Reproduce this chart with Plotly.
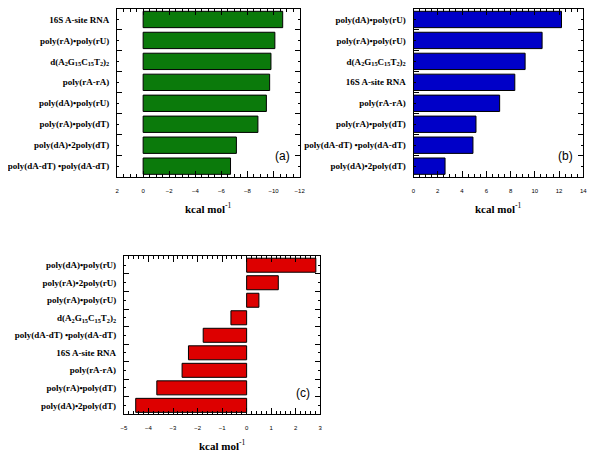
import plotly.graph_objects as go

# ---------------- data ----------------
labels_a = ["16S A-site RNA", "poly(rA)•poly(rU)", "d(A<sub>2</sub>G<sub>15</sub>C<sub>15</sub>T<sub>2</sub>)<sub>2</sub>",
            "poly(rA-rA)", "poly(dA)•poly(rU)", "poly(rA)•poly(dT)", "poly(dA)•2poly(dT)",
            "poly(dA-dT) •poly(dA-dT)"]
values_a = [-10.7, -10.1, -9.8, -9.7, -9.45, -8.8, -7.15, -6.7]

labels_b = ["poly(dA)•poly(rU)", "poly(rA)•poly(rU)", "d(A<sub>2</sub>G<sub>15</sub>C<sub>15</sub>T<sub>2</sub>)<sub>2</sub>",
            "16S A-site RNA", "poly(rA-rA)", "poly(rA)•poly(dT)", "poly(dA-dT) •poly(dA-dT)",
            "poly(dA)•2poly(dT)"]
values_b = [12.2, 10.6, 9.2, 8.35, 7.1, 5.15, 4.9, 2.6]

labels_c = ["poly(dA)•poly(rU)", "poly(rA)•2poly(rU)", "poly(rA)•poly(rU)",
            "d(A<sub>2</sub>G<sub>15</sub>C<sub>15</sub>T<sub>2</sub>)<sub>2</sub>",
            "poly(dA-dT) •poly(dA-dT)", "16S A-site RNA", "poly(rA-rA)",
            "poly(rA)•poly(dT)", "poly(dA)•2poly(dT)"]
values_c = [2.82, 1.29, 0.5, -0.64, -1.77, -2.37, -2.63, -3.66, -4.52]

xticks_a = [2, 0, -2, -4, -6, -8, -10, -12]
xticks_b = [0, 2, 4, 6, 8, 10, 12, 14]
xticks_c = [-5, -4, -3, -2, -1, 0, 1, 2, 3]

W, H = 600, 461
OX, OY = 8, 8  # page body margin offset


def xd(x0, x1):
    return [max(0, (x0 - OX) / W), min(1, (x1 - OX) / W)]


def yd(y0, y1):
    return [max(0, 1 - (y1 - OY) / H), min(1, 1 - (y0 - OY) / H)]


panels = [
    dict(labels=labels_a, values=values_a, color="#0b7a0b", ticks=xticks_a, rng=[2, -12],
         minor=0.5, xdom=xd(114, 300), ydom=yd(8, 176), letter="(a)", tag="", width=0.78),
    dict(labels=labels_b, values=values_b, color="#0000c8", ticks=xticks_b, rng=[0, 14],
         minor=0.5, xdom=xd(416, 589), ydom=yd(8, 176), letter="(b)", tag="2", width=0.78),
    dict(labels=labels_c, values=values_c, color="#dd0000", ticks=xticks_c, rng=[-5, 3],
         minor=0.2, xdom=xd(121, 321), ydom=yd(256, 414), letter="(c)", tag="3", width=0.8),
]

fig = go.Figure()
label_font = dict(family="Liberation Serif", size=9, color="black")
tick_font = dict(family="Liberation Sans", size=6, color="black")

for p in panels:
    n = len(p["labels"])
    ypos = [n - 1 - i for i in range(n)]
    fig.add_trace(go.Bar(
        x=p["values"], y=ypos, orientation="h", width=p["width"],
        marker=dict(color=p["color"], line=dict(color="black", width=1)),
        xaxis="x" + p["tag"], yaxis="y" + p["tag"], showlegend=False,
    ))
    common = dict(showline=True, linecolor="black", linewidth=1, mirror="ticks",
                  showgrid=False, zeroline=False)
    fig.update_layout(**{
        "xaxis" + p["tag"]: dict(
            domain=p["xdom"], anchor="y" + p["tag"], range=p["rng"],
            tickmode="array", tickvals=p["ticks"], ticks="inside", ticklen=6,
            tickcolor="black", tickfont=tick_font, ticklabelstandoff=8,
            minor=dict(dtick=p["minor"], ticks="inside", ticklen=3, tickcolor="black"),
            **common),
        "yaxis" + p["tag"]: dict(
            domain=p["ydom"], anchor="x" + p["tag"], range=[-0.5, n - 0.5],
            tickmode="array", tickvals=ypos,
            ticktext=["<b>" + t + "</b>" for t in p["labels"]],
            ticks="inside", ticklen=2, tickcolor="black",
            tickfont=label_font, ticklabelstandoff=5,
            minor=dict(tickvals=[k + 0.5 for k in range(n - 1)], ticks="inside",
                       ticklen=5, tickcolor="black"),
            **common),
    })
    xc = (p["xdom"][0] + p["xdom"][1]) / 2
    fig.add_annotation(x=xc, y=p["ydom"][0] - 31 / H, xref="paper", yref="paper",
                       text="<b>kcal mol</b><sup>-1</sup>", showarrow=False,
                       font=dict(family="Liberation Serif", size=11, color="black"),
                       xanchor="center", yanchor="middle")
    fig.add_annotation(x=p["xdom"][1] - 8 / W, y=p["ydom"][0] + 21 / H,
                       xref="paper", yref="paper", text=p["letter"], showarrow=False,
                       font=dict(family="Liberation Sans", size=12, color="black"),
                       xanchor="right", yanchor="middle")

fig.update_layout(width=W, height=H, margin=dict(l=0, r=0, t=0, b=0),
                  plot_bgcolor="white", paper_bgcolor="white", bargap=0.2)
fig.write_html("out.html")
